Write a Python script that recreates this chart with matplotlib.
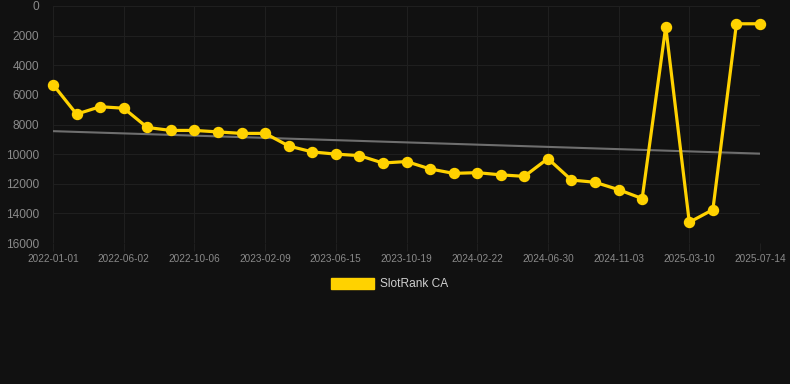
import matplotlib

matplotlib.use("Agg")
import matplotlib.pyplot as plt
import numpy as np

# rank values, one per snapshot (31 snapshots, evenly spaced on the axis)
ranks = [5300, 7300, 6800, 6900, 8200, 8400, 8400, 8500, 8600, 8600,
         9450, 9850, 10000, 10100, 10600, 10500, 11000, 11300, 11250, 11400,
         11500, 10300, 11750, 11900, 12400, 13000, 1400, 14600, 13750, 1200,
         1200]
# every third snapshot gets a date label
date_labels = ["2022-01-01", "2022-06-02", "2022-10-06", "2023-02-09",
               "2023-06-15", "2023-10-19", "2024-02-22", "2024-06-30",
               "2024-11-03", "2025-03-10", "2025-07-14"]
y_ticks = [0, 2000, 4000, 6000, 8000, 10000, 12000, 14000, 16000]

BG = "#111111"
GRID = "#1f1f1f"
TXT = "#8a8a8a"
GOLD = "#FFD200"

plt.rcParams["font.family"] = ["Liberation Sans", "DejaVu Sans"]

fig = plt.figure(figsize=(7.9, 3.84), dpi=100, facecolor=BG)
ax = fig.add_axes([53 / 790, 1 - 243 / 384, (760 - 53) / 790, (243 - 6) / 384])
ax.set_facecolor(BG)

x = np.arange(len(ranks))
slope, icpt = np.polyfit(x, ranks, 1)
ax.plot(x, slope * x + icpt, color="#6e6e6e", lw=1.5, zorder=2)
ax.plot(x, ranks, color=GOLD, lw=2.3, marker="o", ms=7.2,
        solid_joinstyle="miter", clip_on=False, zorder=3, label="SlotRank CA")

ax.set_xlim(0, len(ranks) - 1)
ax.set_ylim(16000, 0)
ax.set_yticks(y_ticks)
ax.set_yticklabels([str(v) for v in y_ticks])
ax.set_xticks(x[::3])
ax.set_xticklabels(date_labels)
ax.grid(True, color=GRID, lw=0.8)
ax.set_axisbelow(True)
for s in ax.spines.values():
    s.set_visible(False)
ax.tick_params(axis="y", colors=TXT, labelsize=8.6, length=0, pad=10)
ax.tick_params(axis="x", colors=GRID, labelcolor=TXT, labelsize=7.2,
               length=6, width=0.8, pad=2)

leg = fig.legend(handles=[plt.Rectangle((0, 0), 1, 1, color=GOLD)],
                 labels=["SlotRank CA"], loc="center",
                 bbox_to_anchor=(390 / 790, 1 - 284 / 384), frameon=False,
                 handlelength=3.6, handleheight=1.1, handletextpad=0.5,
                 fontsize=8.6)
for t in leg.get_texts():
    t.set_color("#cfcfcf")

fig.savefig("out.png", dpi=100, facecolor=BG)
